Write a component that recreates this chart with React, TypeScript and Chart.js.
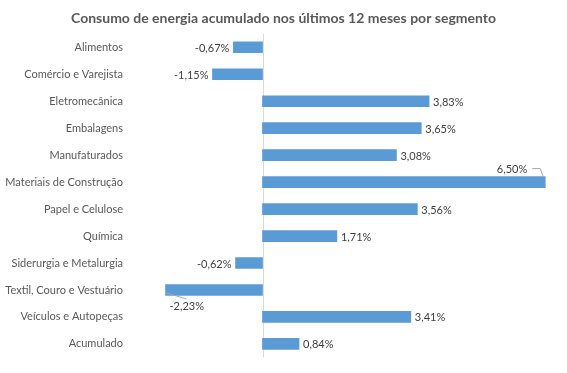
import React, { useEffect, useRef } from "react";
import { Chart, registerables } from "chart.js";

Chart.register(...registerables);

const TITLE = "Consumo de energia acumulado nos últimos 12 meses por segmento";
const categories = [
  "Alimentos",
  "Comércio e Varejista",
  "Eletromecânica",
  "Embalagens",
  "Manufaturados",
  "Materiais de Construção",
  "Papel e Celulose",
  "Química",
  "Siderurgia e Metalurgia",
  "Textil, Couro e Vestuário",
  "Veículos e Autopeças",
  "Acumulado",
];
const values = [-0.67, -1.15, 3.83, 3.65, 3.08, 6.5, 3.56, 1.71, -0.62, -2.23, 3.41, 0.84];
const xMin = -3;
const xMax = 7;

const FONT = "Lato, 'Liberation Sans', sans-serif";

const fmt = (v: number) => v.toFixed(2).replace(".", ",") + "%";

const labelsPlugin = {
  id: "barLabels",
  afterDatasetsDraw(chart: any) {
    const ctx = chart.ctx;
    const meta = chart.getDatasetMeta(0);
    const ds = chart.data.datasets[0].data as number[];
    ctx.save();
    ctx.font = `11px ${FONT}`;
    ctx.fillStyle = "#404040";
    ctx.textBaseline = "middle";
    ctx.strokeStyle = "#a6a6a6";
    ctx.lineWidth = 1;
    meta.data.forEach((bar: any, i: number) => {
      const v = ds[i];
      const t = fmt(v);
      const x = bar.x;
      const y = bar.y;
      if (v > 6) {
        ctx.textAlign = "right";
        ctx.fillText(t, x - 18, y - 13);
        ctx.beginPath();
        ctx.moveTo(x - 13, y - 13.5);
        ctx.lineTo(x - 5, y - 13.5);
        ctx.lineTo(x - 2, y - 5);
        ctx.stroke();
      } else if (v < -2) {
        ctx.textAlign = "left";
        ctx.fillText(t, x + 4, y + 16);
        ctx.beginPath();
        ctx.moveTo(x + 1, y + 3);
        ctx.lineTo(x + 21, y + 9);
        ctx.stroke();
      } else if (v >= 0) {
        ctx.textAlign = "left";
        ctx.fillText(t, x + 4, y + 1);
      } else {
        ctx.textAlign = "right";
        ctx.fillText(t, x - 4, y + 1);
      }
    });
    ctx.restore();
  },
};

const zeroLinePlugin = {
  id: "zeroLine",
  beforeDatasetsDraw(chart: any) {
    const ctx = chart.ctx;
    const xs = chart.scales.x;
    const x0 = Math.round(xs.getPixelForValue(0)) + 0.5;
    const { top, bottom } = chart.chartArea;
    ctx.save();
    ctx.strokeStyle = "#d9d9d9";
    ctx.lineWidth = 1;
    ctx.beginPath();
    ctx.moveTo(x0, top);
    ctx.lineTo(x0, bottom);
    ctx.stroke();
    ctx.restore();
  },
};

export default function App() {
  const ref = useRef<HTMLCanvasElement>(null);
  useEffect(() => {
    if (!ref.current) return;
    const chart = new Chart(ref.current, {
      type: "bar",
      data: {
        labels: categories,
        datasets: [
          {
            data: values,
            backgroundColor: "#5B9BD5",
            barThickness: 11,
          },
        ],
      },
      options: {
        indexAxis: "y",
        animation: false,
        responsive: false,
        layout: { padding: { top: 0, right: 0, bottom: 15, left: 0 } },
        plugins: {
          legend: { display: false },
          tooltip: { enabled: false },
          title: {
            display: true,
            text: TITLE,
            color: "#595959",
            font: { family: FONT, size: 14, weight: "bold" },
            padding: { top: 10, bottom: 7 },
          },
        },
        scales: {
          x: {
            min: xMin,
            max: xMax,
            display: false,
          },
          y: {
            grid: { display: false, drawTicks: false },
            border: { display: false },
            ticks: {
              color: "#595959",
              font: { family: FONT, size: 11 },
              padding: 9,
              autoSkip: false,
            },
            afterFit: (axis: any) => {
              axis.width = 132;
            },
          },
        },
      },
      plugins: [labelsPlugin, zeroLinePlugin],
    });
    return () => chart.destroy();
  }, []);
  return (
    <div style={{ position: "absolute", left: 0, top: 0, width: 567, height: 373, background: "#fff" }}>
      <canvas ref={ref} width={567} height={373} />
    </div>
  );
}
